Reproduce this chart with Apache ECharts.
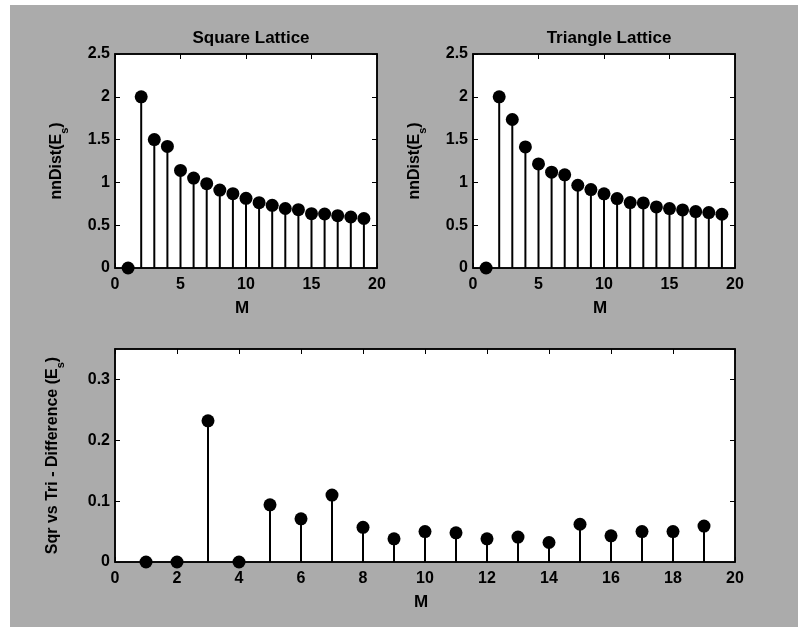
<!DOCTYPE html>
<html><head><meta charset="utf-8">
<script src="https://cdn.jsdelivr.net/npm/echarts@6/dist/echarts.min.js"></script>
<style>html,body{margin:0;padding:0;background:#fff}#c{width:798px;height:627px}</style>
</head><body><div id="c"></div>
<script>
const M = [1,2,3,4,5,6,7,8,9,10,11,12,13,14,15,16,17,18,19];
const squareDist = [0,2.0,1.5,1.42,1.14,1.05,0.985,0.91,0.868,0.814,0.763,0.732,0.695,0.681,0.635,0.631,0.611,0.596,0.578];
const triangleDist = [0,2.0,1.735,1.415,1.216,1.119,1.088,0.967,0.916,0.866,0.811,0.764,0.76,0.713,0.694,0.678,0.659,0.647,0.628];
const diffDist = [0,0,0.232,0,0.094,0.071,0.110,0.057,0.038,0.050,0.048,0.038,0.041,0.032,0.062,0.043,0.050,0.050,0.059];
const titles = ['Square Lattice','Triangle Lattice'];
const xName = 'M';

const FONT = 'Liberation Sans';
const txt = {fontFamily: FONT, fontWeight: 'bold', fontSize: 16, color: '#000'};
const pairs = arr => M.map((m,i)=>[m, arr[i]]);

const grids = [
  {left:115, top:54, width:262, height:214},
  {left:473, top:54, width:262, height:214},
  {left:115, top:349, width:620, height:213}
];
const gridOpts = grids.map(g => Object.assign({show:true, backgroundColor:'#fff', borderColor:'#000', borderWidth:1.5}, g));

const richName = {
  a: {fontFamily: FONT, fontWeight:'bold', fontSize:16, color:'#000', padding:[0,0,5,0], verticalAlign:'bottom'},
  b: {fontFamily: FONT, fontWeight:'bold', fontSize:11, color:'#000', verticalAlign:'bottom'}
};
const lineBlack = {show:true, onZero:false, lineStyle:{color:'#000', width:1.5}};
const tickIn = {show:true, inside:true, length:5, lineStyle:{color:'#000', width:1}};

function xAx(gi, max, interval) {
  return [{
    type:'value', gridIndex:gi, min:0, max:max, interval:interval, position:'bottom',
    name: xName, nameLocation:'middle', nameGap: 32, nameTextStyle: Object.assign({}, txt, {fontSize:17, padding:[0,8,0,0]}),
    axisLine: lineBlack, splitLine:{show:false},
    axisTick: tickIn,
    axisLabel: Object.assign({}, txt, {margin:9, showMinLabel:true, showMaxLabel:true, hideOverlap:false})
  },{
    type:'value', gridIndex:gi, min:0, max:max, interval:interval, position:'top',
    axisLine: lineBlack, splitLine:{show:false}, axisLabel:{show:false},
    axisTick: tickIn
  }];
}
function yAx(gi, max, interval, name, gap, showMax) {
  return [{
    type:'value', gridIndex:gi, min:0, max:max, interval:interval, position:'left',
    name: name, nameLocation:'middle', nameGap: gap, nameRotate:90,
    nameTextStyle: {rich: richName},
    axisLine: lineBlack, splitLine:{show:false},
    axisTick: tickIn,
    axisLabel: Object.assign({}, txt, {margin:5, showMaxLabel:showMax, hideOverlap:false})
  },{
    type:'value', gridIndex:gi, min:0, max:max, interval:interval, position:'right',
    axisLine: lineBlack, splitLine:{show:false}, axisLabel:{show:false},
    axisTick: tickIn
  }];
}

const xAxes = [].concat(xAx(0,20,5), xAx(1,20,5), xAx(2,20,2));
const yAxes = [].concat(
  yAx(0,2.5,0.5,'{a|nnDist(E}{b|s}{a|)}',45,true),
  yAx(1,2.5,0.5,'{a|nnDist(E}{b|s}{a|)}',45,true),
  yAx(2,0.35,0.1,'{a|Sqr vs Tri - Difference (E}{b|s}{a|)}',49,false)
);

const dataSets = [squareDist, triangleDist, diffDist];
const series = [];
dataSets.forEach((d, gi) => {
  series.push({type:'bar', xAxisIndex:gi*2, yAxisIndex:gi*2, data:pairs(d), barWidth:2,
    itemStyle:{color:'#000', opacity:1}, z:2, silent:true, animation:false});
  series.push({type:'scatter', xAxisIndex:gi*2, yAxisIndex:gi*2, data:pairs(d), symbol:'circle', symbolSize:13,
    itemStyle:{color:'#000', opacity:1}, z:3, clip:false, silent:true, animation:false});
});

const chart = echarts.init(document.getElementById('c'), null, {renderer:'canvas'});
chart.setOption({
  animation:false,
  backgroundColor:'#fff',
  graphic:[{type:'rect', shape:{x:10, y:5, width:788, height:622}, style:{fill:'#ababab'}, z:-10, silent:true}],
  title: titles.map((t,i)=>({text:t, left: grids[i].left + grids[i].width/2, top:25, textAlign:'center',
    textStyle:Object.assign({}, txt, {fontSize:17})})),
  grid: gridOpts,
  xAxis: xAxes,
  yAxis: yAxes,
  series: series
});
</script></body></html>
